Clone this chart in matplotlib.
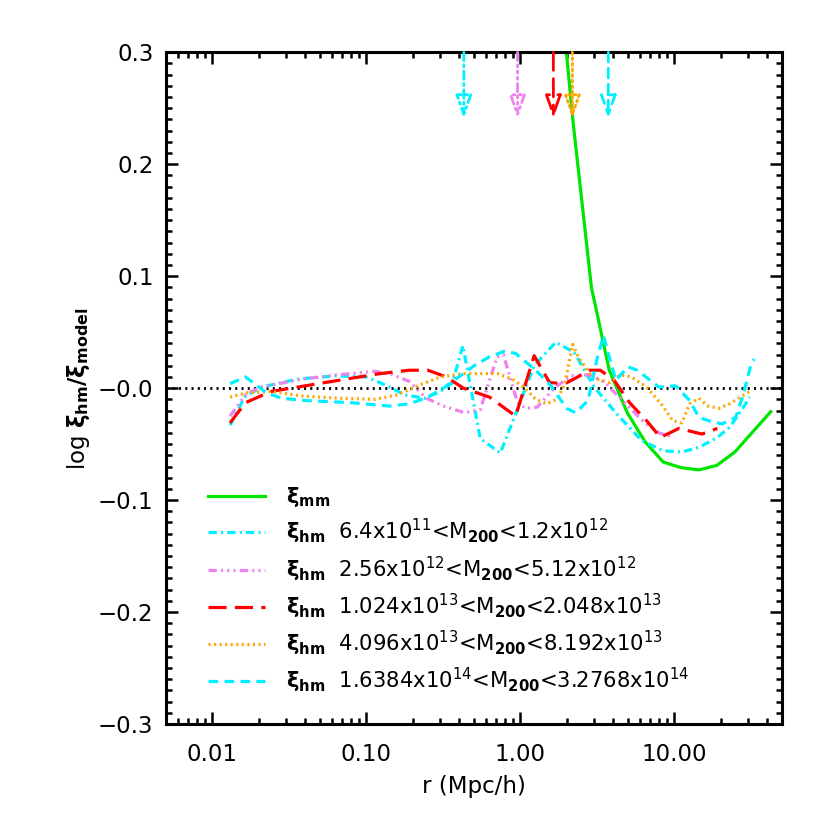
import numpy as np
import matplotlib
matplotlib.use('Agg')
import matplotlib.pyplot as plt
from matplotlib.ticker import FixedLocator, FixedFormatter, MultipleLocator, LogLocator, NullFormatter

plt.rcParams['font.family'] = ['DejaVu Sans']
plt.rcParams['mathtext.fontset'] = 'dejavusans'
plt.rcParams['lines.scale_dashes'] = False

# xi_mm / xi_model
logr_mm = [0.229, 0.345, 0.462, 0.578, 0.695, 0.811, 0.928, 1.044, 1.161, 1.277, 1.394, 1.510, 1.627]
xi_mm = [0.40, 0.235, 0.090, 0.016, -0.022, -0.048, -0.066, -0.071, -0.073, -0.069, -0.057, -0.039, -0.021]

# 6.4e11 < M200 < 1.2e12
logr_b1 = [-1.885, -1.79, -1.68, -1.45, -1.20, -1.00, -0.88, -0.75, -0.62, -0.52, -0.44, -0.373,
           -0.26, -0.13, -0.03, 0.09, 0.23, 0.35, 0.48, 0.62, 0.79, 0.93, 1.05, 1.16, 1.28, 1.36, 1.45, 1.49]
xi_b1 = [-0.033, -0.008, 0.001, 0.008, 0.011, 0.010, 0.003, -0.006, -0.009, -0.003, 0.005, 0.038,
         -0.045, -0.058, -0.023, 0.020, 0.041, 0.032, 0.001, -0.022, -0.047, -0.056, -0.057, -0.053,
         -0.044, -0.035, -0.017, -0.008]

# 2.56e12 < M200 < 5.12e12
logr_b2 = [-1.885, -1.78, -1.68, -1.42, -1.18, -0.94, -0.83, -0.72, -0.61, -0.50, -0.36, -0.26,
           -0.15, -0.11, -0.02, 0.03, 0.11, 0.22, 0.33, 0.45, 0.55, 0.67, 0.80, 0.90, 1.00]
xi_b2 = [-0.025, -0.005, 0.001, 0.008, 0.012, 0.015, 0.012, 0.006, -0.009, -0.016, -0.022, -0.019,
         0.028, 0.030, -0.012, -0.018, -0.017, 0.000, 0.011, 0.012, 0.005, -0.012, -0.030, -0.040, -0.044]

# 1.024e13 < M200 < 2.048e13
logr_b3 = [-1.885, -1.785, -1.62, -1.40, -1.18, -0.91, -0.72, -0.60, -0.48, -0.37, -0.20, -0.03,
           0.09, 0.19, 0.29, 0.36, 0.45, 0.52, 0.61, 0.71, 0.82, 0.91, 1.03, 1.18, 1.28]
xi_b3 = [-0.031, -0.013, -0.003, 0.002, 0.007, 0.013, 0.016, 0.016, 0.010, 0.000, -0.008, -0.025,
         0.029, 0.005, 0.004, 0.009, 0.016, 0.016, 0.007, -0.013, -0.029, -0.044, -0.036, -0.041, -0.036]

# 4.096e13 < M200 < 8.192e13
logr_b4 = [-1.885, -1.77, -1.61, -1.42, -1.18, -0.94, -0.80, -0.65, -0.52, -0.37, -0.15, -0.05,
           0.03, 0.10, 0.17, 0.24, 0.29, 0.34, 0.38, 0.47, 0.58, 0.65, 0.72, 0.82, 0.92, 0.99,
           1.05, 1.10, 1.16, 1.22, 1.29, 1.36, 1.44, 1.50]
xi_b4 = [-0.008, -0.004, -0.003, -0.007, -0.009, -0.010, -0.006, 0.003, 0.010, 0.013, 0.013, 0.008,
         0.000, -0.010, -0.014, -0.010, 0.004, 0.039, 0.027, 0.009, 0.005, 0.012, 0.010, 0.001,
         -0.015, -0.029, -0.031, -0.014, -0.009, -0.016, -0.018, -0.014, -0.007, -0.002]

# 1.6384e14 < M200 < 3.2768e14
logr_b5 = [-1.885, -1.785, -1.65, -1.55, -1.40, -1.10, -0.85, -0.72, -0.60, -0.50, -0.40, -0.30,
           -0.20, -0.10, -0.03, 0.10, 0.20, 0.30, 0.36, 0.44, 0.50, 0.54, 0.62, 0.70, 0.76, 0.90,
           1.01, 1.10, 1.16, 1.22, 1.31, 1.40, 1.45, 1.50, 1.52]
xi_b5 = [0.004, 0.010, -0.004, -0.009, -0.011, -0.013, -0.016, -0.014, -0.008, 0.000, 0.010, 0.020,
         0.028, 0.033, 0.031, 0.016, 0.002, -0.018, -0.022, -0.011, 0.027, 0.047, 0.007, 0.019,
         0.016, 0.001, 0.002, -0.011, -0.026, -0.029, -0.032, -0.026, -0.005, 0.022, 0.026]

# arrow positions (Mpc/h) for each mass bin
r_arrow = [0.43, 0.96, 1.64, 2.18, 3.73]

labels = [
    r'$\mathbf{\xi_{mm}}$',
    r'$\mathbf{\xi_{hm}}$  6.4x10$^{11}$<M$_{\mathbf{200}}$<1.2x10$^{12}$',
    r'$\mathbf{\xi_{hm}}$  2.56x10$^{12}$<M$_{\mathbf{200}}$<5.12x10$^{12}$',
    r'$\mathbf{\xi_{hm}}$  1.024x10$^{13}$<M$_{\mathbf{200}}$<2.048x10$^{13}$',
    r'$\mathbf{\xi_{hm}}$  4.096x10$^{13}$<M$_{\mathbf{200}}$<8.192x10$^{13}$',
    r'$\mathbf{\xi_{hm}}$  1.6384x10$^{14}$<M$_{\mathbf{200}}$<3.2768x10$^{14}$',
]

colors = ['#00e600', '#00f0ff', '#ee82ee', '#ff0000', '#ffa500', '#00f0ff']
styles = ['-', (0, (6, 3, 1.5, 3)), (0, (6, 3, 1.5, 3, 1.5, 3, 1.5, 3)),
          (0, (13, 6)), (0, (1.5, 2.5)), (0, (7, 4.5))]

fig = plt.figure(figsize=(8.3, 8.3), dpi=100)
ax = fig.add_axes([0.2, 0.1277, 0.742, 0.8093])

series = [(logr_mm, xi_mm), (logr_b1, xi_b1), (logr_b2, xi_b2),
          (logr_b3, xi_b3), (logr_b4, xi_b4), (logr_b5, xi_b5)]

ax.axhline(0.0, color='black', lw=2, linestyle=(0, (1.5, 3)), zorder=1)

for (lr, xi), c, ls, lab in zip(series, colors, styles, labels):
    ax.plot(10 ** np.array(lr), xi, color=c, linestyle=ls, lw=2.3, label=lab)

# arrows at the top, one per mass bin
for x, c, ls in zip(r_arrow, colors[1:], styles[1:]):
    ax.annotate('', xy=(x, 0.241), xytext=(x, 0.3),
                arrowprops=dict(arrowstyle='-|>,head_length=1.4,head_width=0.5',
                                color=c, linestyle=ls, lw=2.0, fill=False,
                                shrinkA=0, shrinkB=0))

ax.set_xscale('log')
ax.set_xlim(0.005, 50)
ax.set_ylim(-0.3, 0.3)

ax.xaxis.set_major_locator(FixedLocator([0.01, 0.1, 1, 10]))
ax.xaxis.set_major_formatter(FixedFormatter(['0.01', '0.10', '1.00', '10.00']))
ax.xaxis.set_minor_locator(LogLocator(base=10, subs=np.arange(2, 10), numticks=20))
ax.xaxis.set_minor_formatter(NullFormatter())

yt = [-0.3, -0.2, -0.1, 0.0, 0.1, 0.2, 0.3]
ax.yaxis.set_major_locator(FixedLocator(yt))
ax.yaxis.set_major_formatter(FixedFormatter(['\u22120.3', '\u22120.2', '\u22120.1', '\u22120.0', '0.1', '0.2', '0.3']))
ax.yaxis.set_minor_locator(MultipleLocator(0.01))

ax.tick_params(which='both', direction='in', top=True, right=True, width=1.8)
ax.tick_params(which='major', length=8.5, labelsize=16.5)
ax.tick_params(which='minor', length=4.5)
ax.tick_params(axis='x', which='major', pad=14)
ax.tick_params(axis='y', which='major', pad=9)
for sp in ax.spines.values():
    sp.set_linewidth(2.2)

ax.set_xlabel('r (Mpc/h)', fontsize=16.5, labelpad=6)
ax.set_ylabel(r'log $\mathbf{\xi_{hm}/\xi_{model}}$', fontsize=16.5, labelpad=4)

leg = ax.legend(loc='upper left', bbox_to_anchor=(0.055, 0.368), frameon=False,
                fontsize=15.2, handlelength=2.7, handletextpad=1.0, labelspacing=0.38,
                borderaxespad=0)

plt.savefig('out.png', dpi=100)
plt.close()
